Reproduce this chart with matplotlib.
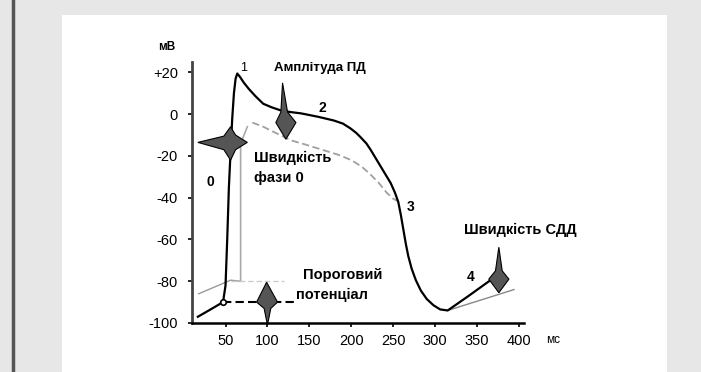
import matplotlib.pyplot as plt
from matplotlib.patches import Polygon, Rectangle
from matplotlib.lines import Line2D

plt.rcParams['font.family'] = ['Liberation Sans', 'DejaVu Sans']

# main action potential (solid black)
ap_t = [17, 30, 47, 50, 52, 54, 56, 58, 60, 62, 64, 67, 72, 78, 86, 95, 105, 116, 128, 140, 160,
        179, 190, 199, 206, 211, 218, 223, 229, 235, 241, 247, 252, 256, 259, 262, 265, 268, 272,
        277, 283, 290, 298, 306, 315, 340, 366]
ap_v = [-97, -94, -90, -82, -60, -35, -18, -2, 10, 17, 19.5, 18, 15, 12, 8.5, 5, 3.3, 1.8, 1, 0.4, -1.2,
        -3, -4.5, -6.8, -9, -11, -14, -17, -21, -25, -29, -33, -37.5, -42, -48, -55, -62, -68, -74,
        -79.5, -84.5, -88.5, -91.5, -93.5, -94, -87, -79.5]

# shifted / slowed potential (grey dashed)
ap2_t = [82, 95, 110, 128, 145, 165, 185, 200, 212, 222, 233, 242, 250, 257]
ap2_v = [-4, -6, -9, -12.5, -14.5, -17, -19.5, -22, -25, -28.5, -33, -37.5, -40.5, -42]
base2_t = [18, 56, 68]
base2_v = [-86, -79.5, -80]
up2_t = [68, 68, 76]
up2_v = [-80, -14, -6]
sdd2_t = [315, 394]
sdd2_v = [-94, -84]

# threshold potential
thr_t = [47, 134]
thr_v = [-90, -90]

xticks = [50, 100, 150, 200, 250, 300, 350, 400]
yticks = [20, 0, -20, -40, -60, -80, -100]
ytick_labels = ['+20', '0', '-20', '-40', '-60', '-80', '-100']

# annotation arrows (star-like markers)
star0 = [(17, -13.5), (48, -10.5), (56, -6), (62, -10), (76, -13.5), (62, -17), (56, -22), (48, -17)]
arrow_amp = [(118, 15), (124, 1), (134, -4), (122, -12), (110, -4), (116, 1)]
arrow_thr = [(99, -80.5), (112, -90), (104, -93), (100, -101), (96, -93), (87, -90)]
arrow_sdd = [(376, -63.7), (380, -75), (388, -79), (376, -85.5), (364, -79), (372, -75)]

fig = plt.figure(figsize=(7.01, 3.72), dpi=100)
fig.patch.set_facecolor('#e7e7e7')
fig.patches.append(Rectangle((62 / 701, 0), 605 / 701, 357 / 372, transform=fig.transFigure,
                             facecolor='white', edgecolor='none', zorder=-10))
fig.lines.append(Line2D([13 / 701, 13 / 701], [0, 1], transform=fig.transFigure,
                        color='#555555', lw=2.5, zorder=-5))

ax = fig.add_axes([192 / 701, 49 / 372, 332 / 701, 261 / 372])
ax.set_facecolor('none')
ax.set_xlim(10, 406)
ax.set_ylim(-100, 25)
for s in ['top', 'right']:
    ax.spines[s].set_visible(False)
ax.spines['left'].set_color('#444444')
ax.spines['left'].set_linewidth(2)
ax.spines['bottom'].set_linewidth(1.8)
ax.set_xticks(xticks)
ax.set_yticks(yticks)
ax.set_yticklabels(ytick_labels)
ax.tick_params(direction='out', length=3, width=1.2, labelsize=10.5)
ax.tick_params(axis='y', pad=7)
ax.tick_params(axis='x', pad=5)

ax.plot(base2_t, base2_v, color='#999999', lw=1)
ax.plot(up2_t, up2_v, color='#aaaaaa', lw=1.2)
ax.plot(ap2_t, ap2_v, color='#a0a0a0', lw=1.3, ls=(0, (4, 2)))
ax.plot(sdd2_t, sdd2_v, color='#888888', lw=1)
ax.plot([56, 120], [-80, -80], color='#cccccc', lw=1, ls=(0, (4, 2)))
ax.plot(thr_t, thr_v, color='black', lw=1.5, ls=(0, (4, 2)))
ax.plot(ap_t, ap_v, color='black', lw=1.6, solid_joinstyle='round')
ax.plot([47], [-90], marker='o', ms=4, mfc='white', mec='black', mew=1.2)

for pts in [star0, arrow_amp, arrow_thr, arrow_sdd]:
    ax.add_patch(Polygon(pts, closed=True, facecolor='#555555', edgecolor='black',
                         lw=0.8, clip_on=False, zorder=5))

fs = 10.5
ax.text(72, 22, '1', fontsize=9, ha='center', va='center')
ax.text(163, 22, 'Амплітуда ПД', fontsize=9.5, fontweight='bold', ha='center', va='center')
ax.text(166, 3, '2', fontsize=10, fontweight='bold', ha='center', va='center')
ax.text(32, -32.6, '0', fontsize=10, fontweight='bold', ha='center', va='center')
ax.text(84, -21, 'Швидкість', fontsize=fs, fontweight='bold', ha='left', va='center')
ax.text(84, -30.5, 'фази 0', fontsize=fs, fontweight='bold', ha='left', va='center')
ax.text(271, -44.6, '3', fontsize=10, fontweight='bold', ha='center', va='center')
ax.text(334, -55.6, 'Швидкість СДД', fontsize=fs, fontweight='bold', ha='left', va='center',
        clip_on=False)
ax.text(342, -78, '4', fontsize=10, fontweight='bold', ha='center', va='center')
ax.text(142, -77, 'Пороговий', fontsize=fs, fontweight='bold', ha='left', va='center')
ax.text(134, -86.7, 'потенціал', fontsize=fs, fontweight='bold', ha='left', va='center')
ax.text(-20, 32, 'мВ', fontsize=8.5, fontweight='bold', ha='center', va='center', clip_on=False)
ax.text(441, -108, 'мс', fontsize=8.5, ha='center', va='center', clip_on=False)

fig.savefig('out.png', dpi=100, facecolor=fig.get_facecolor())
